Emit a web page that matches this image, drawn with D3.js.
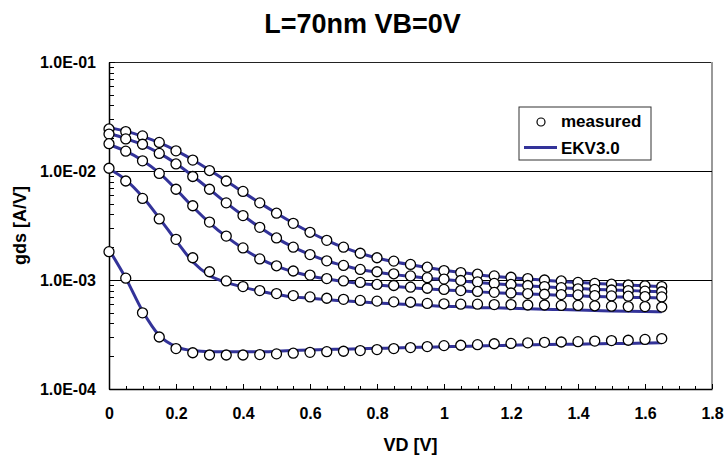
<!DOCTYPE html>
<html>
<head>
<meta charset="utf-8">
<script src="https://cdn.jsdelivr.net/npm/d3@7"></script>
<style>
  body { margin: 0; background: #fff; }
  svg text { font-family: "Liberation Sans", Arial, sans-serif; font-weight: bold; fill: #000; }
  svg line { shape-rendering: crispEdges; }
</style>
</head>
<body>
<svg id="chart"></svg>
<script>
const W = 725;
const H = 457;

// drain voltage grid (V)
const vd = [0, 0.05, 0.1, 0.15, 0.2, 0.25, 0.3, 0.35, 0.4, 0.45, 0.5, 0.55, 0.6, 0.65, 0.7, 0.75, 0.8,
    0.85, 0.9, 0.95, 1.0, 1.05, 1.1, 1.15, 1.2, 1.25, 1.3, 1.35, 1.4, 1.45, 1.5, 1.55, 1.6, 1.65];

// measured gds, one array per VG curve (top to bottom)
const meas1 = [2.43e-2, 2.30e-2, 2.10e-2, 1.83e-2, 1.53e-2, 1.26e-2, 1.01e-2, 8.1e-3, 6.5e-3, 5.1e-3, 4.1e-3,
    3.31e-3, 2.74e-3, 2.31e-3, 2.0e-3, 1.76e-3, 1.60e-3, 1.49e-3, 1.39e-3, 1.31e-3, 1.22e-3, 1.17e-3, 1.13e-3,
    1.09e-3, 1.06e-3, 1.03e-3, 1.0e-3, 9.8e-4, 9.5e-4, 9.3e-4, 9.15e-4, 9.0e-4, 8.85e-4, 8.7e-4];
const meas2 = [2.18e-2, 1.97e-2, 1.76e-2, 1.45e-2, 1.16e-2, 8.9e-3, 6.8e-3, 5.1e-3, 3.9e-3, 3.04e-3, 2.43e-3,
    2.0e-3, 1.71e-3, 1.50e-3, 1.36e-3, 1.25e-3, 1.19e-3, 1.14e-3, 1.09e-3, 1.05e-3, 1.02e-3, 9.9e-4, 9.6e-4,
    9.3e-4, 9.1e-4, 8.9e-4, 8.7e-4, 8.5e-4, 8.3e-4, 8.2e-4, 8.1e-4, 8.0e-4, 7.9e-4, 7.8e-4];
const meas3 = [1.78e-2, 1.52e-2, 1.24e-2, 9.5e-3, 6.8e-3, 4.8e-3, 3.4e-3, 2.53e-3, 1.97e-3, 1.56e-3, 1.35e-3,
    1.21e-3, 1.11e-3, 1.03e-3, 9.8e-4, 9.5e-4, 9.1e-4, 8.9e-4, 8.6e-4, 8.4e-4, 8.2e-4, 8.0e-4, 7.85e-4,
    7.7e-4, 7.6e-4, 7.5e-4, 7.4e-4, 7.35e-4, 7.3e-4, 7.2e-4, 7.15e-4, 7.1e-4, 7.05e-4, 7.0e-4];
const meas4 = [1.06e-2, 8.1e-3, 5.6e-3, 3.63e-3, 2.36e-3, 1.60e-3, 1.19e-3, 9.8e-4, 8.7e-4, 8.0e-4, 7.5e-4,
    7.2e-4, 7.0e-4, 6.8e-4, 6.65e-4, 6.5e-4, 6.4e-4, 6.3e-4, 6.25e-4, 6.1e-4, 6.05e-4, 6.0e-4, 6.0e-4,
    5.95e-4, 5.95e-4, 5.9e-4, 5.9e-4, 5.85e-4, 5.85e-4, 5.8e-4, 5.75e-4, 5.7e-4, 5.7e-4, 5.65e-4];
const meas5 = [1.82e-3, 1.04e-3, 5.0e-4, 3.0e-4, 2.35e-4, 2.15e-4, 2.05e-4, 2.05e-4, 2.05e-4, 2.07e-4, 2.1e-4,
    2.13e-4, 2.17e-4, 2.2e-4, 2.22e-4, 2.25e-4, 2.3e-4, 2.35e-4, 2.4e-4, 2.45e-4, 2.5e-4, 2.52e-4, 2.55e-4,
    2.6e-4, 2.62e-4, 2.65e-4, 2.68e-4, 2.7e-4, 2.72e-4, 2.75e-4, 2.78e-4, 2.8e-4, 2.85e-4, 2.9e-4];

// EKV3.0 model gds
const ekv1 = [2.5e-2, 2.32e-2, 2.08e-2, 1.82e-2, 1.54e-2, 1.27e-2, 1.02e-2, 8.1e-3, 6.4e-3, 5.1e-3, 4.1e-3,
    3.32e-3, 2.74e-3, 2.31e-3, 1.99e-3, 1.76e-3, 1.59e-3, 1.47e-3, 1.38e-3, 1.30e-3, 1.23e-3, 1.17e-3, 1.12e-3,
    1.08e-3, 1.05e-3, 1.02e-3, 9.95e-4, 9.7e-4, 9.5e-4, 9.3e-4, 9.15e-4, 9.0e-4, 8.85e-4, 8.7e-4];
const ekv2 = [2.22e-2, 1.98e-2, 1.74e-2, 1.46e-2, 1.17e-2, 9.0e-3, 6.8e-3, 5.1e-3, 3.9e-3, 3.04e-3, 2.42e-3,
    2.0e-3, 1.71e-3, 1.50e-3, 1.36e-3, 1.25e-3, 1.18e-3, 1.12e-3, 1.08e-3, 1.04e-3, 1.01e-3, 9.8e-4, 9.5e-4,
    9.25e-4, 9.05e-4, 8.85e-4, 8.65e-4, 8.5e-4, 8.35e-4, 8.2e-4, 8.1e-4, 8.0e-4, 7.9e-4, 7.8e-4];
const ekv3 = [1.75e-2, 1.52e-2, 1.25e-2, 9.6e-3, 6.8e-3, 4.7e-3, 3.35e-3, 2.5e-3, 1.95e-3, 1.57e-3, 1.34e-3,
    1.19e-3, 1.09e-3, 1.02e-3, 9.7e-4, 9.3e-4, 9.0e-4, 8.7e-4, 8.5e-4, 8.3e-4, 8.1e-4, 7.95e-4, 7.8e-4,
    7.65e-4, 7.55e-4, 7.45e-4, 7.35e-4, 7.25e-4, 7.15e-4, 7.05e-4, 7.0e-4, 6.95e-4, 6.9e-4, 6.85e-4];
const ekv4 = [1.05e-2, 8.3e-3, 5.8e-3, 3.7e-3, 2.3e-3, 1.47e-3, 1.1e-3, 9.5e-4, 8.6e-4, 7.9e-4, 7.4e-4,
    7.0e-4, 6.8e-4, 6.6e-4, 6.45e-4, 6.3e-4, 6.15e-4, 6.05e-4, 5.95e-4, 5.85e-4, 5.75e-4, 5.7e-4, 5.6e-4,
    5.55e-4, 5.5e-4, 5.45e-4, 5.4e-4, 5.35e-4, 5.3e-4, 5.25e-4, 5.2e-4, 5.18e-4, 5.15e-4, 5.1e-4];
const ekv5 = [1.9e-3, 1.04e-3, 5.2e-4, 3.1e-4, 2.45e-4, 2.25e-4, 2.2e-4, 2.2e-4, 2.2e-4, 2.2e-4, 2.22e-4,
    2.25e-4, 2.28e-4, 2.3e-4, 2.32e-4, 2.34e-4, 2.36e-4, 2.38e-4, 2.4e-4, 2.42e-4, 2.44e-4, 2.46e-4, 2.48e-4,
    2.5e-4, 2.52e-4, 2.54e-4, 2.56e-4, 2.57e-4, 2.58e-4, 2.6e-4, 2.61e-4, 2.62e-4, 2.64e-4, 2.65e-4];

const measured = [meas1, meas2, meas3, meas4, meas5];
const model = [ekv1, ekv2, ekv3, ekv4, ekv5];

const xTicks = [0, 0.2, 0.4, 0.6, 0.8, 1, 1.2, 1.4, 1.6, 1.8];
const xMinorTicks = [0.05, 0.1, 0.15, 0.25, 0.3, 0.35, 0.45, 0.5, 0.55, 0.65, 0.7, 0.75, 0.85, 0.9, 0.95,
    1.05, 1.1, 1.15, 1.25, 1.3, 1.35, 1.45, 1.5, 1.55, 1.65, 1.7, 1.75];
const yTicks = [1e-4, 1e-3, 1e-2, 1e-1];
const gridLines = [1e-3, 1e-2];

const pLeft = 109, pRight = 712, pTop = 62, pBottom = 389;
const lineColor = "#333399";

const svg = d3.select("#chart")
    .attr("width", W)
    .attr("height", H);

const x = d3.scaleLinear().domain([0, 1.8]).range([pLeft, pRight]);
const y = d3.scaleLog().domain([1e-4, 1e-1]).range([pBottom, pTop]);

// Title
svg.append("text")
    .attr("x", W / 2)
    .attr("y", 33)
    .attr("text-anchor", "middle")
    .style("font-size", "27px")
    .text("L=70nm VB=0V");

// frame (top / right)
svg.append("line")
    .attr("x1", pLeft).attr("x2", pRight)
    .attr("y1", pTop).attr("y2", pTop)
    .attr("stroke", "#222").attr("stroke-width", 1);
svg.append("line")
    .attr("x1", pRight).attr("x2", pRight)
    .attr("y1", pTop).attr("y2", pBottom)
    .attr("stroke", "#999").attr("stroke-width", 2);

// Grid
svg.selectAll(".grid")
    .data(gridLines)
    .enter()
    .append("line")
    .attr("class", "grid")
    .attr("x1", pLeft).attr("x2", pRight)
    .attr("y1", d => y(d)).attr("y2", d => y(d))
    .attr("stroke", "#000").attr("stroke-width", 1);

// Axis Y (minor ticks)
const yMinor = svg.append("g")
    .attr("transform", `translate(${pLeft},0)`)
    .call(d3.axisLeft(y).ticks(10).tickSizeInner(-5).tickSizeOuter(0).tickFormat(""));
yMinor.select(".domain").remove();

// Axis Y (major)
const fmtE = v => {
    const e = Math.round(Math.log10(v));
    return "1.0E" + (e < 0 ? "-" : "+") + String(Math.abs(e)).padStart(2, "0");
};
const yAxis = svg.append("g")
    .attr("transform", `translate(${pLeft},0)`)
    .call(d3.axisLeft(y).tickValues(yTicks).tickSizeInner(-6).tickSizeOuter(0).tickPadding(13).tickFormat(fmtE));
yAxis.selectAll("text").style("font-size", "16px").attr("dy", "0.34em");

// Axis X (minor)
const xMinor = svg.append("g")
    .attr("transform", `translate(0,${pBottom})`)
    .call(d3.axisBottom(x).tickValues(xMinorTicks).tickSizeInner(-3).tickSizeOuter(0).tickFormat(""));
xMinor.select(".domain").remove();

// Axis X (major)
const xAxis = svg.append("g")
    .attr("transform", `translate(0,${pBottom})`)
    .call(d3.axisBottom(x).tickValues(xTicks).tickSizeInner(-5).tickSizeOuter(0).tickPadding(19)
        .tickFormat(d => String(d)));
xAxis.selectAll("text").style("font-size", "16px");

svg.selectAll(".domain").attr("stroke", "#000").attr("stroke-width", 1.5);
svg.selectAll(".tick line").attr("stroke", "#000");

// Label X
svg.append("text")
    .attr("x", (pLeft + pRight) / 2)
    .attr("y", 451)
    .attr("text-anchor", "middle")
    .style("font-size", "18px")
    .text("VD [V]");

// Label Y
svg.append("text")
    .attr("transform", "rotate(-90)")
    .attr("x", -(pTop + pBottom) / 2)
    .attr("y", 26)
    .attr("text-anchor", "middle")
    .style("font-size", "18px")
    .text("gds [A/V]");

// Model lines
const line = d3.line()
    .x((d, i) => x(vd[i]))
    .y(d => y(d))
    .curve(d3.curveMonotoneX);

svg.selectAll(".model")
    .data(model)
    .enter()
    .append("path")
    .attr("class", "model")
    .attr("d", line)
    .attr("fill", "none")
    .attr("stroke", lineColor)
    .attr("stroke-width", 3);

// Measured points
measured.forEach(series => {
    svg.append("g")
        .selectAll("circle")
        .data(series)
        .enter()
        .append("circle")
        .attr("cx", (d, i) => x(vd[i]))
        .attr("cy", d => y(d))
        .attr("r", 5)
        .attr("fill", "#fff")
        .attr("stroke", "#000")
        .attr("stroke-width", 1.3);
});

// Legend
const lg = svg.append("g");
lg.append("rect")
    .attr("x", 519).attr("y", 107)
    .attr("width", 132).attr("height", 53)
    .attr("fill", "#fff")
    .attr("stroke", "#333").attr("stroke-width", 1);
lg.append("circle")
    .attr("cx", 541).attr("cy", 122).attr("r", 4)
    .attr("fill", "#fff").attr("stroke", "#000").attr("stroke-width", 1.2);
lg.append("text")
    .attr("x", 561).attr("y", 127)
    .style("font-size", "17px")
    .text("measured");
lg.append("line")
    .attr("x1", 524).attr("x2", 557)
    .attr("y1", 147).attr("y2", 147)
    .attr("stroke", lineColor).attr("stroke-width", 3);
lg.append("text")
    .attr("x", 561).attr("y", 154)
    .style("font-size", "17px")
    .text("EKV3.0");
</script>
</body>
</html>
